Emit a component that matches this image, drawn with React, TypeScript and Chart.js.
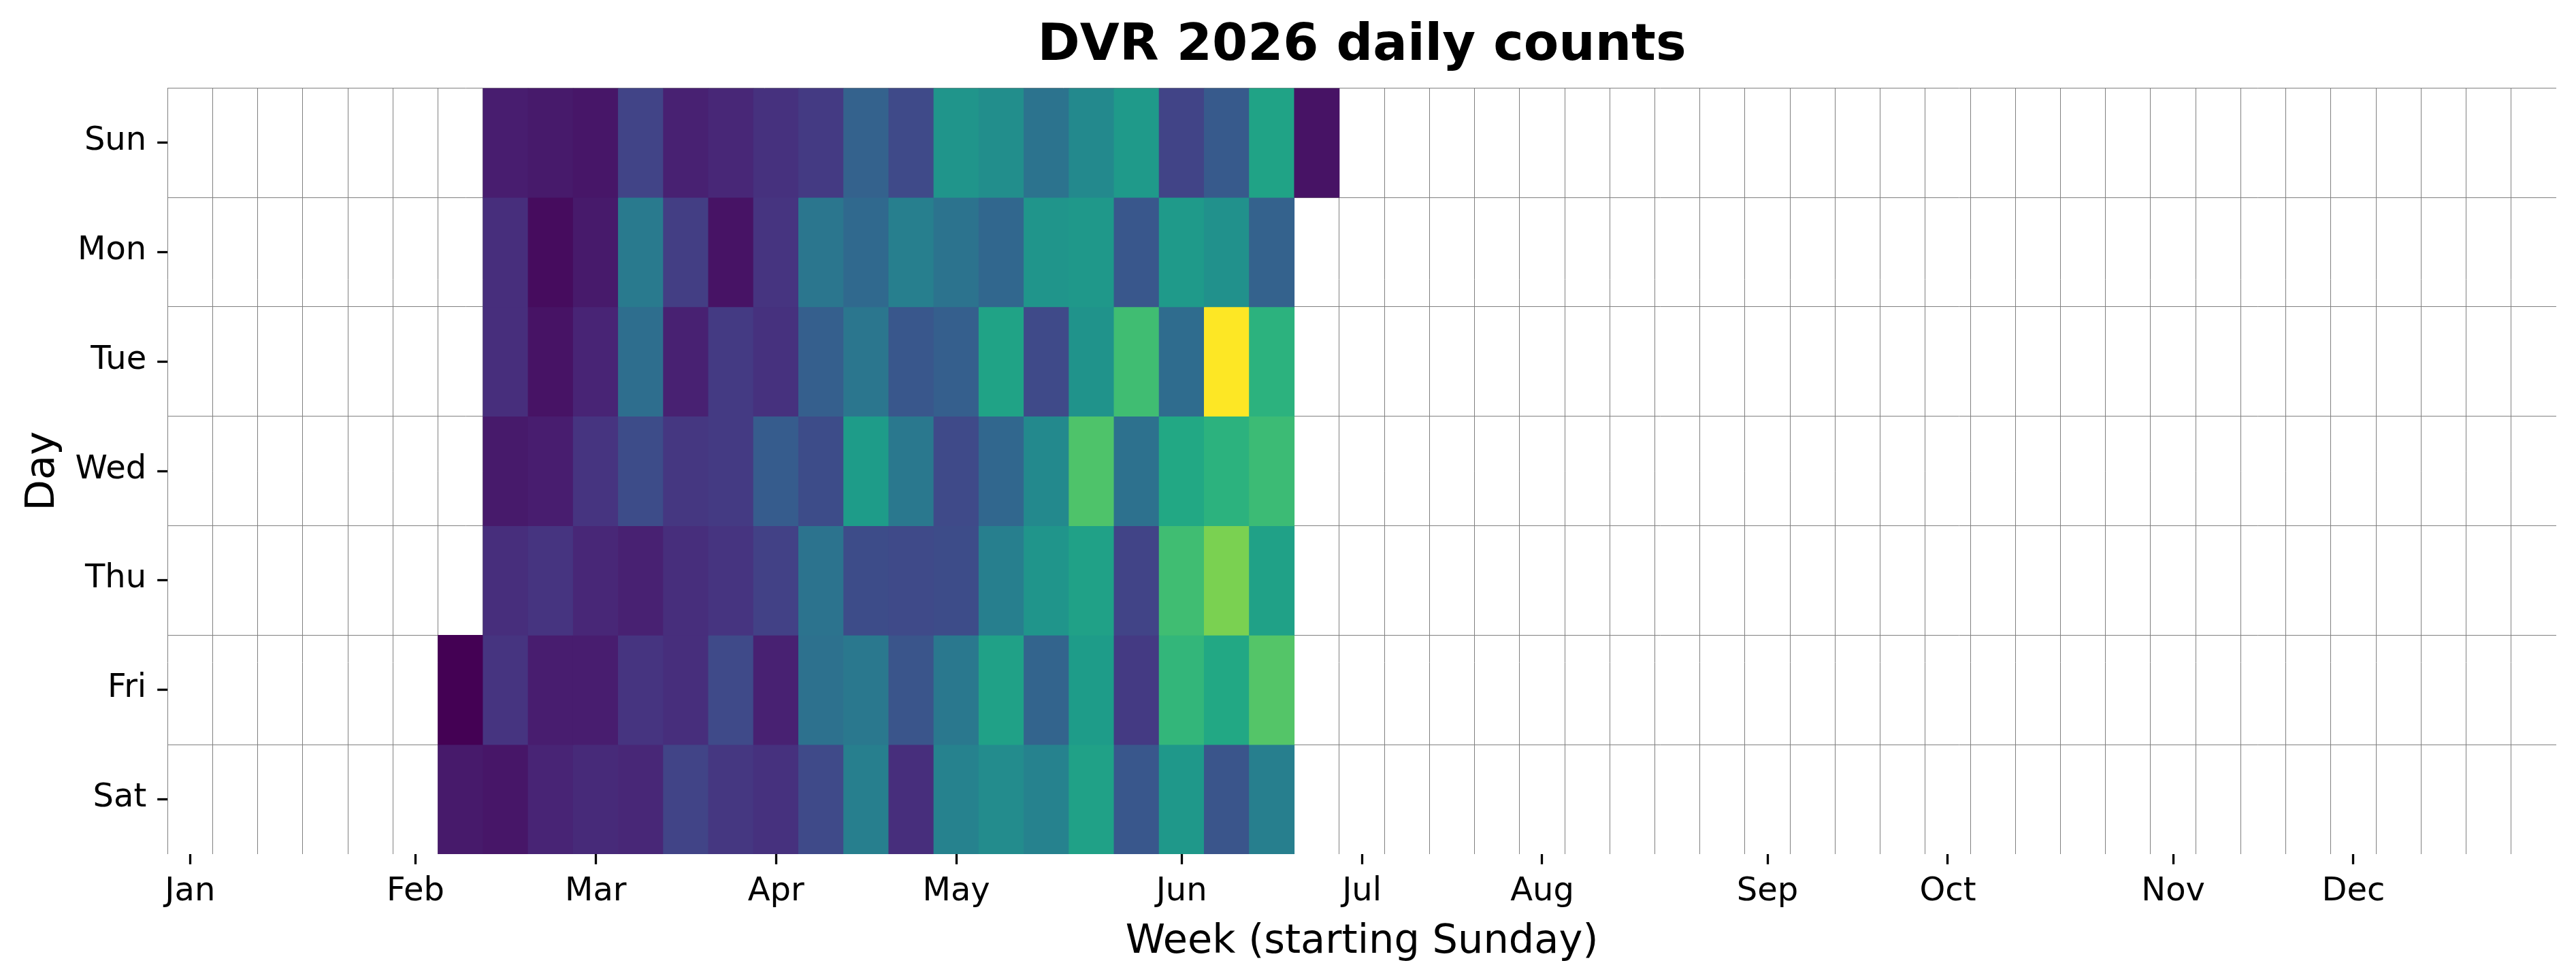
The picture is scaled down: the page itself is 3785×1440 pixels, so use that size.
import React, { useEffect, useRef } from "react";
import { Chart, registerables } from "chart.js";

Chart.register(...registerables);

// ---------------- data ----------------
const TITLE = "DVR 2026 daily counts";
const X_TITLE = "Week (starting Sunday)";
const Y_TITLE = "Day";
const DAYS = ["Sun", "Mon", "Tue", "Wed", "Thu", "Fri", "Sat"];
const MONTHS = ["Jan", "Feb", "Mar", "Apr", "May", "Jun", "Jul", "Aug", "Sep", "Oct", "Nov", "Dec"];
// index of the week (0 = week starting Sun 2025-12-28) that holds the 1st of each month
const MONTH_WEEKS = [0, 5, 9, 13, 17, 22, 26, 30, 35, 39, 44, 48];
const N = null;
// week start dates (Sundays) – 53 columns
const WEEK_LABELS = [
  "2025-12-28", "2026-01-04", "2026-01-11", "2026-01-18", "2026-01-25", "2026-02-01", "2026-02-08",
  "2026-02-15", "2026-02-22", "2026-03-01", "2026-03-08", "2026-03-15", "2026-03-22", "2026-03-29",
  "2026-04-05", "2026-04-12", "2026-04-19", "2026-04-26", "2026-05-03", "2026-05-10", "2026-05-17",
  "2026-05-24", "2026-05-31", "2026-06-07", "2026-06-14", "2026-06-21", "2026-06-28", "2026-07-05",
  "2026-07-12", "2026-07-19", "2026-07-26", "2026-08-02", "2026-08-09", "2026-08-16", "2026-08-23",
  "2026-08-30", "2026-09-06", "2026-09-13", "2026-09-20", "2026-09-27", "2026-10-04", "2026-10-11",
  "2026-10-18", "2026-10-25", "2026-11-01", "2026-11-08", "2026-11-15", "2026-11-22", "2026-11-29",
  "2026-12-06", "2026-12-13", "2026-12-20", "2026-12-27",
];
// estimated daily counts (relative scale 0..100), one value per week column; null = no data
const sunCounts = [N, N, N, N, N, N, N, 8, 7, 6, 20, 9, 11, 14, 17, 31, 22, 52, 49, 38, 47, 54, 20, 28, 58, 5];
const monCounts = [N, N, N, N, N, N, N, 13, 3, 7, 41, 18, 5, 15, 39, 34, 43, 38, 33, 52, 53, 27, 54, 50, 31];
const tueCounts = [N, N, N, N, N, N, N, 13, 5, 10, 36, 9, 17, 14, 30, 39, 27, 30, 58, 22, 51, 69, 35, 100, 64];
const wedCounts = [N, N, N, N, N, N, N, 7, 8, 15, 23, 16, 17, 29, 23, 55, 40, 22, 33, 47, 72, 37, 60, 64, 68];
const thuCounts = [N, N, N, N, N, N, N, 13, 15, 11, 9, 13, 15, 19, 38, 23, 22, 23, 43, 52, 57, 20, 69, 80, 57];
const friCounts = [N, N, N, N, N, N, 0, 15, 8, 8, 15, 13, 22, 9, 37, 40, 26, 40, 57, 32, 55, 17, 66, 60, 73];
const satCounts = [N, N, N, N, N, N, 7, 6, 10, 12, 11, 20, 16, 14, 22, 43, 13, 44, 48, 44, 57, 27, 53, 26, 43];
const DAY_SERIES = [sunCounts, monCounts, tueCounts, wedCounts, thuCounts, friCounts, satCounts];
const VMIN = 0;
const VMAX = 100;

// ---------------- style ----------------
const FONT = "DejaVu Sans";
const GRID = "#808080";
const CLEAR = "rgba(0,0,0,0)";
const VIRIDIS = [
  [68, 1, 84], [71, 19, 101], [72, 36, 117], [70, 52, 128], [65, 68, 135], [59, 82, 139],
  [53, 95, 141], [47, 108, 142], [42, 120, 142], [37, 132, 142], [33, 145, 140], [30, 156, 137],
  [34, 168, 132], [47, 180, 124], [68, 191, 112], [94, 201, 98], [122, 209, 81], [155, 217, 60],
  [189, 223, 38], [223, 227, 24], [253, 231, 37],
];
function viridis(t: number): string {
  const c = Math.max(0, Math.min(1, t)) * (VIRIDIS.length - 1);
  const i = Math.min(VIRIDIS.length - 2, Math.floor(c));
  const f = c - i;
  const a = VIRIDIS[i], b = VIRIDIS[i + 1];
  const m = (k: number) => Math.round(a[k] + (b[k] - a[k]) * f);
  return `rgb(${m(0)},${m(1)},${m(2)})`;
}

export default function App() {
  const ref = useRef<HTMLCanvasElement | null>(null);
  useEffect(() => {
    if (!ref.current) return;
    const datasets = DAY_SERIES.map((vals, d) => ({
      label: DAYS[d],
      data: WEEK_LABELS.map((_, w) => (vals[w] == null ? null : [d, d + 1])),
      backgroundColor: WEEK_LABELS.map((_, w) =>
        vals[w] == null ? CLEAR : viridis(((vals[w] as number) - VMIN) / (VMAX - VMIN))
      ),
      borderWidth: 0,
      grouped: false,
      barPercentage: 1,
      categoryPercentage: 1,
      xAxisID: "x",
      yAxisID: "y",
    }));
    const chart = new Chart(ref.current, {
      type: "bar",
      data: { labels: WEEK_LABELS, datasets: datasets as any },
      options: {
        responsive: false,
        devicePixelRatio: 1,
        animation: false,
        layout: { padding: { left: 0, right: 29, top: 0, bottom: 0 } },
        plugins: {
          legend: { display: false },
          tooltip: { enabled: false },
          title: {
            display: true,
            fullSize: false,
            text: TITLE,
            color: "#000",
            font: { family: FONT, size: 75, weight: "bold", lineHeight: 1.2 },
            padding: { top: 24, bottom: 15.3 },
          },
        },
        scales: {
          x: {
            type: "category",
            position: "bottom",
            offset: true,
            z: 1,
            grid: {
              offset: true,
              color: (c: any) => (c.type === "tick" ? GRID : CLEAR),
              lineWidth: 1,
              drawTicks: false,
            },
            border: { display: false },
            ticks: { display: false, autoSkip: false },
            afterFit: (s: any) => { s.height = 0; },
          },
          xm: {
            type: "linear",
            position: "bottom",
            offset: false,
            min: 0,
            max: WEEK_LABELS.length,
            afterBuildTicks: (s: any) => { s.ticks = MONTH_WEEKS.map((w) => ({ value: w + 0.5 })); },
            ticks: {
              autoSkip: false,
              maxRotation: 0,
              color: "#000",
              padding: 12,
              font: { family: FONT, size: 48 },
              callback: (_v: any, i: number) => MONTHS[i],
            },
            grid: {
              offset: false,
              drawOnChartArea: false,
              color: CLEAR,
              tickColor: "#000",
              tickLength: 15,
              tickWidth: 3.3,
            },
            border: { display: false },
            title: {
              display: true,
              text: X_TITLE,
              color: "#000",
              font: { family: FONT, size: 59, lineHeight: 1.2 },
              padding: { top: 0, bottom: 20 },
            },
            afterFit: (s: any) => { s.height = 185; },
          },
          y: {
            type: "linear",
            position: "left",
            min: 0,
            max: 7,
            reverse: true,
            z: 1,
            ticks: { display: false, stepSize: 1 },
            grid: {
              color: (c: any) => (c.tick && c.tick.value === 7 ? CLEAR : GRID),
              lineWidth: 1,
              drawTicks: false,
            },
            border: { display: false },
            afterFit: (s: any) => { s.width = 0; },
          },
          yd: {
            type: "linear",
            position: "left",
            offset: false,
            min: 0,
            max: 7,
            reverse: true,
            afterBuildTicks: (s: any) => { s.ticks = DAYS.map((_, i) => ({ value: i + 0.5 })); },
            ticks: {
              autoSkip: false,
              color: "#000",
              padding: 16,
              labelOffset: -2,
              font: { family: FONT, size: 48 },
              callback: (_v: any, i: number) => DAYS[i],
            },
            grid: {
              offset: false,
              drawOnChartArea: false,
              color: CLEAR,
              tickColor: "#000",
              tickLength: 15,
              tickWidth: 3.3,
            },
            border: { display: false },
            title: {
              display: true,
              text: Y_TITLE,
              color: "#000",
              font: { family: FONT, size: 59, lineHeight: 1.2 },
              padding: { top: 28, bottom: 0 },
            },
            afterFit: (s: any) => { s.width = 246.2; },
          },
        },
      } as any,
    });
    return () => chart.destroy();
  }, []);
  return (
    <div style={{ position: "absolute", left: 0, top: 0, width: 3785, height: 1440, background: "#fff" }}>
      <canvas ref={ref} width={3785} height={1440} style={{ width: 3785, height: 1440, display: "block" }} />
    </div>
  );
}
